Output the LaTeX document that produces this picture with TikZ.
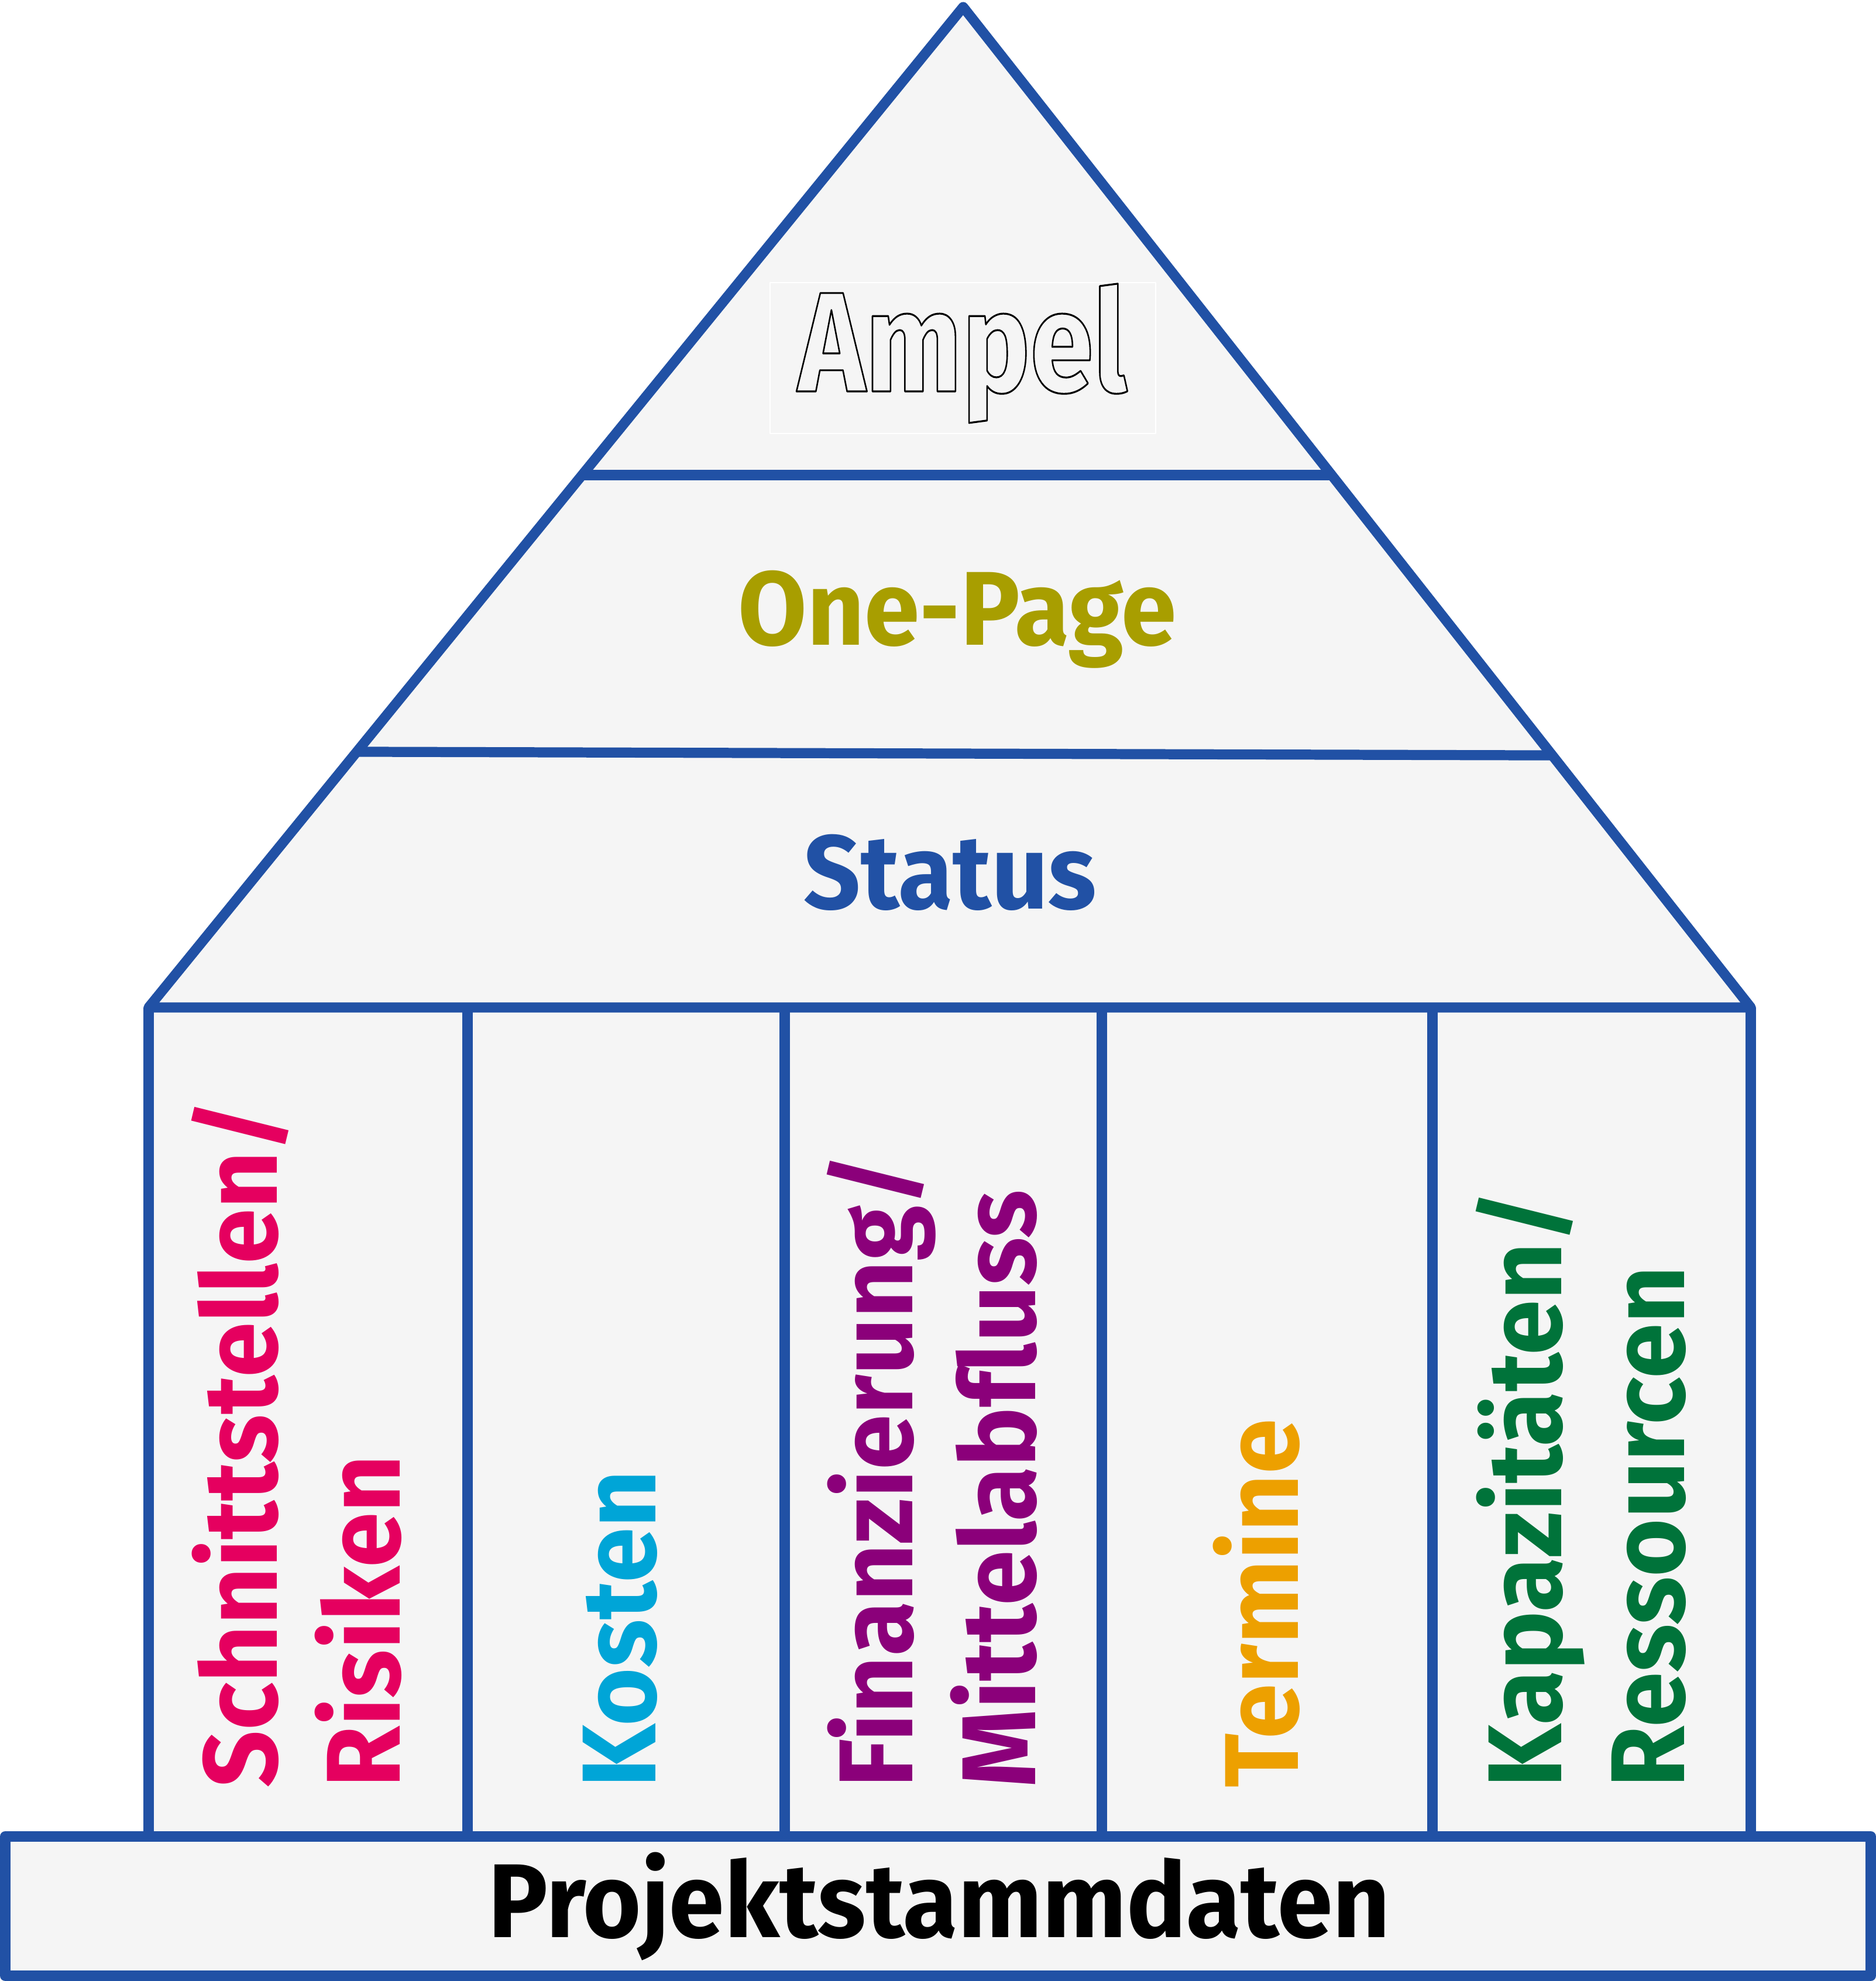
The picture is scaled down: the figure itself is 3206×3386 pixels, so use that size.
\documentclass[tikz,border=0pt]{standalone}
\usepackage{fontspec}
\setmainfont{Fira Sans}[Ligatures=NoCommon]
\usetikzlibrary{calc}
\definecolor{hblue}{RGB}{33,81,165}
\definecolor{hfill}{RGB}{245,245,245}
\definecolor{cmag}{RGB}{229,0,95}
\definecolor{colive}{RGB}{168,158,0}
\definecolor{ccyan}{RGB}{0,165,215}
\definecolor{cpurple}{RGB}{139,0,122}
\definecolor{corange}{RGB}{237,160,0}
\definecolor{cgreen}{RGB}{0,115,58}
\newcommand{\outlinedtext}[1]{\special{pdf:literal direct 1 Tr 0.9 w}#1\special{pdf:literal direct 0 Tr}}
\begin{document}
\begin{tikzpicture}[x=0.01cm,y=-0.01cm,line join=round,
  house/.style={draw=hblue,line width=4.9pt},
  big/.style={font=\fontsize{51}{60}\selectfont\bfseries,inner sep=0pt},
  horiz/.style={big,xscale=0.95,anchor=base},
  pillartext/.style={big,rotate=90,xscale=0.95,anchor=base west}]
\useasboundingbox (0,0) rectangle (3206,3386);
\fill[white] (0,0) rectangle (3206,3386);
% key points
\coordinate (apex) at (1646,12);
\coordinate (bl) at (254,1722);
\coordinate (br) at (2992,1722);
\coordinate (d1l) at ($(bl)!0.5322!(apex)$);
\coordinate (d1r) at ($(br)!0.5322!(apex)$);
\coordinate (d2l) at ($(bl)!0.2556!(apex)$);
\coordinate (d2r) at ($(br)!0.2520!(apex)$);
\foreach \n/\x in {p0/254,p1/799,p2/1341,p3/1883,p4/2448,p5/2992}{
  \coordinate (\n t) at (\x,1722);
  \coordinate (\n b) at (\x,3139);
}
% fill
\fill[hfill] (apex) -- (br) -- (p5b) -- (p0b) -- (bl) -- cycle;
% roof
\draw[house] (apex) -- (br) -- (bl) -- cycle;
\draw[house] (d1l) -- (d1r);
\draw[house] (d2l) -- (d2r);
% pillars
\foreach \n in {p0,p1,p2,p3,p4,p5}{
  \draw[house] (\n t) -- (\n b);
}
% base
\draw[draw=hblue,line width=5.1pt,fill=hfill] (9,3139) rectangle (3197,3377);
\node[horiz] (base) at (1605,3311) {Projektstammdaten};
% roof texts
\draw[white,line width=0.4pt] (1316,483) rectangle (1975,741);
\node[inner sep=0pt,anchor=base,xscale=0.805,font=\fontsize{69}{80}\selectfont\bfseries,text=black] (ampel) at (1645,669) {\outlinedtext{Ampel}};
\node[horiz,text=colive] (onepage) at (1636,1102) {One-Page};
\node[horiz,text=hblue] (status) at (1624,1553) {Status};
% pillar texts
\node[pillartext,text=cmag] (c1a) at (473,3056) {Schnittstellen/};
\node[pillartext,text=cmag] (c1b) at (683,3056) {Risiken};
\node[pillartext,text=ccyan] (c2) at (1120,3056) {Kosten};
\node[pillartext,text=cpurple] (c3a) at (1559,3056) {Finanzierung/};
\node[pillartext,text=cpurple] (c3b) at (1769,3056) {Mittelabfluss};
\node[pillartext,text=corange] (c4) at (2218,3056) {Termine};
\node[pillartext,text=cgreen] (c5a) at (2668,3056) {Kapazitäten/};
\node[pillartext,text=cgreen] (c5b) at (2878,3056) {Ressourcen};
\end{tikzpicture}
\end{document}
